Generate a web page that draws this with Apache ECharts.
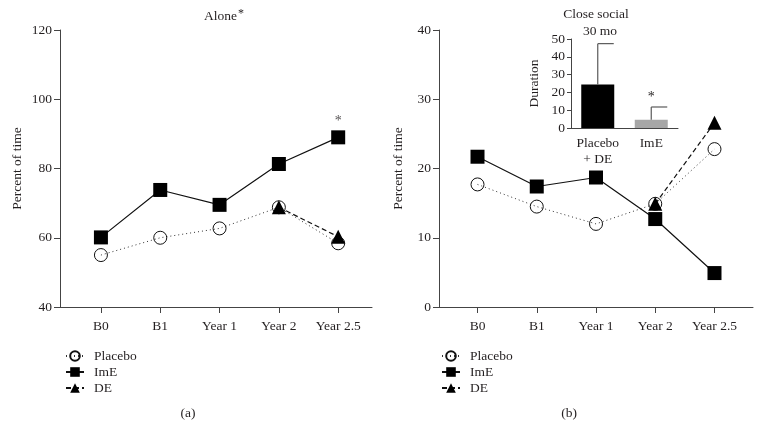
<!DOCTYPE html>
<html><head><meta charset="utf-8">
<script src="https://cdn.jsdelivr.net/npm/echarts@6/dist/echarts.min.js"></script>
<style>html,body{margin:0;padding:0;background:#fff}#c{width:762px;height:439px}</style>
</head><body><div id="c"></div>
<script>
const categories = ['B0', 'B1', 'Year 1', 'Year 2', 'Year 2.5'];
const alonePlacebo = [55.0, 60.0, 62.7, 68.8, 58.4];
const aloneImE = [60.1, 73.8, 69.5, 81.3, 89.0];
const aloneDE = [null, null, null, 68.8, 60.3];
const closePlacebo = [17.7, 14.5, 12.0, 14.9, 22.8];
const closeImE = [21.7, 17.4, 18.7, 12.7, 4.9];
const closeDE = [null, null, null, 14.9, 26.6];
const aloneSig = [null, null, null, null, 93.5];
const insetCats = ['Placebo\n+ DE', 'ImE'];
const insetMeans = [24.5, 4.7];
const insetErr = [22.9, 7.1];
const insetSig = ['', '*'];
const aloneTicks = [40, 60, 80, 100, 120];
const closeTicks = [0, 10, 20, 30, 40];
const insetTicks = [0, 10, 20, 30, 40, 50];

const FONT = 'Liberation Serif';
const TXT = '#231f20';
const AX = '#444';
const FS = 13.5;

function pts(arr) {
  const out = [];
  arr.forEach((v, i) => { if (v !== null) out.push([i, v]); });
  return out;
}

const chart = echarts.init(document.getElementById('c'), null, {renderer: 'canvas'});

function xAxisCfg(grid, min, max) {
  return {
    type: 'value', gridIndex: grid, min: min, max: max,
    splitLine: {show: false},
    axisLine: {show: true, onZero: false, lineStyle: {color: AX, width: 1}},
    axisTick: {show: true, customValues: [0, 1, 2, 3, 4], length: 6, lineStyle: {color: AX}},
    axisLabel: {show: true, customValues: [0, 1, 2, 3, 4], margin: 12,
      formatter: v => categories[Math.round(v)] || '',
      fontFamily: FONT, fontSize: FS, color: TXT}
  };
}
function yAxisCfg(grid, ticks, gap) {
  return {
    type: 'value', gridIndex: grid, min: ticks[0], max: ticks[ticks.length - 1],
    interval: ticks[1] - ticks[0],
    name: 'Percent of time', nameLocation: 'middle', nameGap: gap,
    nameTextStyle: {fontFamily: FONT, fontSize: FS, color: TXT},
    splitLine: {show: false},
    axisLine: {show: true, onZero: false, lineStyle: {color: AX, width: 1}},
    axisTick: {show: true, length: 6, lineStyle: {color: AX}},
    axisLabel: {margin: 8, fontFamily: FONT, fontSize: FS, color: TXT}
  };
}

function lineSeries(name, grid, data) {
  const base = {
    name: name, type: 'line', xAxisIndex: grid, yAxisIndex: grid,
    data: pts(data), animation: false, z: 3
  };
  if (name === 'Placebo') {
    Object.assign(base, {
      symbol: 'circle', symbolSize: 13,
      lineStyle: {color: '#333', width: 1, type: [1, 3]},
      itemStyle: {color: 'rgba(255,255,255,0)', borderColor: '#111', borderWidth: 1}, z: 2
    });
  } else if (name === 'ImE') {
    Object.assign(base, {
      symbol: 'rect', symbolSize: 14,
      lineStyle: {color: '#111', width: 1.2, type: 'solid'},
      itemStyle: {color: '#000', borderColor: '#000', borderWidth: 0}, z: 3
    });
  } else {
    Object.assign(base, {
      symbol: 'triangle', symbolSize: 14,
      lineStyle: {color: '#111', width: 1.2, type: [5, 3]},
      itemStyle: {color: '#000', borderColor: '#000', borderWidth: 0}, z: 4
    });
  }
  return base;
}

const legendCommon = {
  orient: 'vertical', itemWidth: 18, itemHeight: 12, itemGap: 2,
  data: ['Placebo', 'ImE', 'DE'], selectedMode: false,
  textStyle: {fontFamily: FONT, fontSize: FS, color: TXT, padding: [0, 0, 0, 5]}
};

const option = {
  backgroundColor: '#fff',
  animation: false,
  grid: [
    {left: 60, top: 30, width: 312, height: 277},
    {left: 439, top: 30, width: 314, height: 277},
    {left: 571, top: 39, width: 107, height: 89}
  ],
  xAxis: [
    xAxisCfg(0, -0.69, 4.57),
    xAxisCfg(1, -0.65, 4.65),
    {
      type: 'category', gridIndex: 2, data: insetCats,
      axisLine: {show: true, lineStyle: {color: AX}},
      axisTick: {show: false},
      axisLabel: {margin: 7, fontFamily: FONT, fontSize: FS, color: TXT, lineHeight: 16, interval: 0}
    }
  ],
  yAxis: [
    yAxisCfg(0, aloneTicks, 36),
    yAxisCfg(1, closeTicks, 34),
    {
      type: 'value', gridIndex: 2, min: insetTicks[0], max: insetTicks[insetTicks.length - 1],
      interval: 10, name: 'Duration', nameLocation: 'middle', nameGap: 30,
      nameTextStyle: {fontFamily: FONT, fontSize: FS, color: TXT},
      splitLine: {show: false},
      axisLine: {show: true, lineStyle: {color: AX}},
      axisTick: {show: true, length: 4, lineStyle: {color: AX}},
      axisLabel: {margin: 6, fontFamily: FONT, fontSize: FS, color: TXT}
    }
  ],
  legend: [
    Object.assign({left: 60, top: 344}, legendCommon),
    Object.assign({left: 436, top: 344}, legendCommon)
  ],
  graphic: [
    {type: 'text', x: 224, y: 16, style: {
      text: '{a|Alone}{s|*}', textAlign: 'center', textVerticalAlign: 'middle',
      rich: {a: {fontFamily: FONT, fontSize: FS, fill: TXT},
             s: {fontFamily: FONT, fontSize: 12, fill: TXT, verticalAlign: 'top', padding: [0, 0, 5, 1]}}}},
    {type: 'text', x: 596, y: 14, style: {text: 'Close social', textAlign: 'center', textVerticalAlign: 'middle',
      fontFamily: FONT, fontSize: FS, fill: TXT}},
    {type: 'text', x: 600, y: 31, style: {text: '30 mo', textAlign: 'center', textVerticalAlign: 'middle',
      fontFamily: FONT, fontSize: FS, fill: TXT}},
    {type: 'text', x: 188, y: 413, style: {text: '(a)', textAlign: 'center', textVerticalAlign: 'middle',
      fontFamily: FONT, fontSize: FS, fill: TXT}},
    {type: 'text', x: 569, y: 413, style: {text: '(b)', textAlign: 'center', textVerticalAlign: 'middle',
      fontFamily: FONT, fontSize: FS, fill: TXT}}
  ],
  series: [
    lineSeries('Placebo', 0, alonePlacebo),
    lineSeries('ImE', 0, aloneImE),
    lineSeries('DE', 0, aloneDE),
    {
      type: 'scatter', xAxisIndex: 0, yAxisIndex: 0, data: pts(aloneSig), symbolSize: 0,
      silent: true,
      label: {show: true, position: 'inside', formatter: '*', fontFamily: FONT, fontSize: 14, color: TXT}
    },
    lineSeries('Placebo', 1, closePlacebo),
    lineSeries('ImE', 1, closeImE),
    lineSeries('DE', 1, closeDE),
    {
      type: 'bar', xAxisIndex: 2, yAxisIndex: 2, barWidth: 33,
      data: insetMeans.map((v, i) => ({value: v, itemStyle: {color: i === 0 ? '#000' : '#a7a7a7'}})),
      z: 2
    },
    {
      type: 'custom', xAxisIndex: 2, yAxisIndex: 2, z: 3, silent: true,
      data: insetMeans.map((v, i) => [i, v, v + insetErr[i]]),
      renderItem: function (params, api) {
        const i = api.value(0);
        const p0 = api.coord([i, api.value(1)]);
        const p1 = api.coord([i, api.value(2)]);
        const children = [
          {type: 'line', shape: {x1: p0[0], y1: p0[1], x2: p1[0], y2: p1[1]}, style: {stroke: '#5a5a5a', lineWidth: 1.2}},
          {type: 'line', shape: {x1: p1[0], y1: p1[1], x2: p1[0] + 16, y2: p1[1]}, style: {stroke: '#5a5a5a', lineWidth: 1.2}}
        ];
        if (insetSig[i]) {
          children.push({type: 'text', x: p1[0], y: p1[1] - 10,
            style: {text: insetSig[i], textAlign: 'center', textVerticalAlign: 'middle',
              fontFamily: FONT, fontSize: 14, fill: TXT}});
        }
        return {type: 'group', children: children};
      }
    }
  ]
};
chart.setOption(option);
</script>
</body></html>
